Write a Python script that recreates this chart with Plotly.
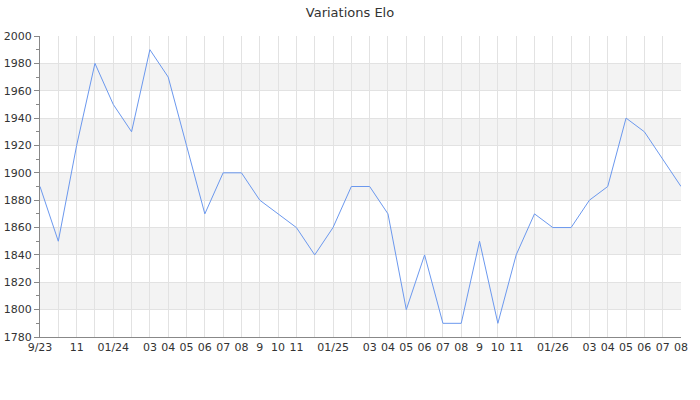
import plotly.graph_objects as go

month_labels = ["9/23", "", "11", "", "01/24", "", "03", "04", "05", "06", "07", "08",
                "9", "10", "11", "", "01/25", "", "03", "04", "05", "06", "07", "08",
                "9", "10", "11", "", "01/26", "", "03", "04", "05", "06", "07", "08"]
elo = [1890, 1850, 1920, 1980, 1950, 1930, 1990, 1970, 1920, 1870, 1900, 1900,
       1880, 1870, 1860, 1840, 1860, 1890, 1890, 1870, 1800, 1840, 1790, 1790,
       1850, 1790, 1840, 1870, 1860, 1860, 1880, 1890, 1940, 1930, 1910, 1890]
y_ticks = list(range(1780, 2001, 20))
bands = [(1800, 1820), (1840, 1860), (1880, 1900), (1920, 1940), (1960, 1980)]

idx = list(range(len(elo)))
fig = go.Figure()
fig.add_trace(go.Scatter(x=idx, y=elo, mode="lines",
                         line=dict(color="#6b98ee", width=1), hoverinfo="y"))

shapes = []
for lo, hi in bands:
    shapes.append(dict(type="rect", xref="paper", yref="y", x0=0, x1=1, y0=lo, y1=hi,
                       fillcolor="#f3f3f3", line=dict(width=0), layer="below"))

fig.update_layout(
    width=700, height=400,
    margin=dict(l=40, r=19, t=36, b=63),
    paper_bgcolor="white", plot_bgcolor="white",
    font=dict(family="DejaVu Sans", size=11, color="#333"),
    title=dict(text="Variations Elo", x=0.5, xanchor="center", xref="container",
               y=1 - 12 / 400, yanchor="middle", yref="container",
               font=dict(size=13, color="#333")),
    showlegend=False,
    shapes=shapes,
    xaxis=dict(range=[0, len(elo) - 1], tickmode="array", tickvals=idx, ticktext=month_labels,
               showgrid=True, gridcolor="#e2e2e2", gridwidth=1, zeroline=False, automargin=False,
               showline=True, linecolor="#888", linewidth=1, ticks="", tickangle=0,
               tickfont=dict(size=11, color="#333")),
    yaxis=dict(range=[1780, 2000], tickmode="array", tickvals=y_ticks, automargin=False,
               showgrid=True, gridcolor="#e2e2e2", gridwidth=1, zeroline=False,
               showline=True, linecolor="#888", linewidth=1, ticks="outside",
               ticklen=5, tickcolor="#888",
               minor=dict(dtick=10, tick0=1780, ticks="outside", ticklen=3, tickcolor="#888",
                          showgrid=False),
               tickfont=dict(size=11, color="#333")),
)
fig.write_html("out.html", config={"displayModeBar": False},
               post_script="document.body.style.margin='0';")
